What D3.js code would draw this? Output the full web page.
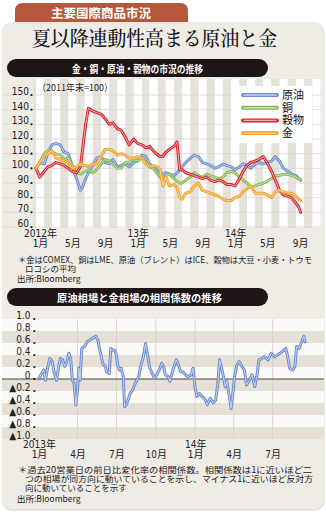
<!DOCTYPE html>
<html><head><meta charset="utf-8">
<script src="https://cdn.jsdelivr.net/npm/d3@7"></script>
<style>
html,body{margin:0;padding:0;background:#fff;}
svg{display:block;}
</style></head><body>
<svg id="c" width="326" height="514"></svg>
<script>
// ---------- DATA ----------
const seriesNames = ["原油", "銅", "穀物", "金"];
const seriesColors = ["#6c8ccf", "#84ba58", "#d62530", "#f2a126"];
const seriesInner = ["#c3d2f0", "#c8e4b0", "#f7b3b6", "#fbd9a0"];

const dates1 = [
 "2012-01-01","2012-01-15","2012-02-01","2012-02-15","2012-03-01","2012-03-15","2012-04-01","2012-04-15","2012-05-01","2012-05-15","2012-06-01","2012-06-15","2012-06-25","2012-07-05","2012-07-15","2012-08-01","2012-08-15","2012-09-01","2012-09-15","2012-10-01","2012-10-15","2012-11-01","2012-11-15","2012-12-01","2012-12-15",
 "2013-01-01","2013-01-15","2013-02-01","2013-02-15","2013-03-01","2013-03-15","2013-04-01","2013-04-10","2013-04-20","2013-05-01","2013-05-15","2013-06-01","2013-06-12","2013-06-22","2013-07-01","2013-07-15","2013-08-01","2013-08-15","2013-09-01","2013-09-15","2013-10-01","2013-10-15","2013-11-01","2013-11-15","2013-12-01","2013-12-15",
 "2014-01-01","2014-01-15","2014-02-01","2014-02-15","2014-03-01","2014-03-15","2014-04-01","2014-04-15","2014-05-01","2014-05-15","2014-06-01","2014-06-15","2014-07-01","2014-07-15","2014-08-01","2014-08-15","2014-09-01","2014-09-10","2014-09-18"
];
const oil = [
 100,104,103,111,116,117,116,111,110,102,93,85,88,93,97,102,107,108,104,103,106,101,102,103,101,
 104,105,109,108,103,101,98,97,96,97,96,95,97,99,101,104,107,109,108,104,103,102,100,101,103,102,
 101,99,101,103,102,100,103,104,103,104,105,108,105,100,98,96,95,93,92
];
const copper = [
 100,104,110,112,111,110,109,106,107,102,97,96,97,98,99,97,99,103,106,105,103,100,100,104,104,
 106,105,107,104,101,100,96,94,92,95,96,93,91,90,90,92,94,97,95,94,96,95,94,93,94,97,
 98,97,94,92,90,87,88,89,90,91,93,95,95,96,96,95,94,93,92
];
const grains = [
 100,94,98,101,102,104,103,102,100,98,97,101,115,130,141,139,138,137,134,130,131,127,126,121,116,
 120,117,116,114,115,112,109,108,108,111,113,115,118,99,99,97,96,95,94,93,94,92,91,92,91,89,
 89,88,93,98,102,104,105,106,108,104,98,92,85,82,81,80,76,74,70
];
const gold = [
 100,104,109,110,112,107,106,105,104,100,101,103,102,102,101,103,103,108,113,113,112,109,110,109,107,
 107,108,107,103,101,102,101,99,88,94,88,89,87,80,79,83,84,88,90,85,84,83,82,81,79,78,
 78,80,81,84,86,88,83,83,83,82,80,84,85,84,83,83,81,79,78
];
const yTicks1 = [150,140,130,120,110,100,90,80,70,60];
const xTickDates1 = ["2012-01","2012-05","2012-09","2013-01","2013-05","2013-09","2014-01","2014-05","2014-09"];
const xTickLabels1 = ["1月","5月","9月","1月","5月","9月","1月","5月","9月"];
const yearTickDates1 = ["2012-01","2013-01","2014-01"];
const yearLabels1 = ["2012年","13年","14年"];

const dates2 = [
 "2013-01-01","2013-01-07","2013-01-12","2013-01-16","2013-01-21","2013-01-26","2013-02-01","2013-02-05","2013-02-11","2013-02-16","2013-02-20","2013-02-25",
 "2013-03-02","2013-03-07","2013-03-12","2013-03-16","2013-03-20","2013-03-24","2013-03-28","2013-04-01","2013-04-04","2013-04-07","2013-04-11","2013-04-17","2013-04-24",
 "2013-05-06","2013-05-14","2013-05-19","2013-05-22","2013-05-26","2013-05-30","2013-06-05","2013-06-08","2013-06-14","2013-06-18","2013-06-22","2013-06-26","2013-06-30",
 "2013-07-04","2013-07-08","2013-07-12","2013-07-17","2013-07-20","2013-07-24","2013-07-28","2013-08-02","2013-08-08","2013-08-16","2013-08-22","2013-08-28",
 "2013-09-01","2013-09-07","2013-09-11","2013-09-17","2013-09-23","2013-09-28","2013-10-03","2013-10-10","2013-10-15","2013-10-19","2013-10-23","2013-10-30",
 "2013-11-03","2013-11-10","2013-11-18","2013-11-24","2013-11-28","2013-12-03","2013-12-10","2013-12-15","2013-12-23","2013-12-27",
 "2014-01-01","2014-01-05","2014-01-11","2014-01-17","2014-01-25","2014-01-29","2014-02-05","2014-02-12","2014-02-18","2014-02-23","2014-02-27",
 "2014-03-02","2014-03-08","2014-03-12","2014-03-16","2014-03-20","2014-03-26","2014-03-30","2014-04-03","2014-04-08","2014-04-14","2014-04-20","2014-04-26",
 "2014-05-01","2014-05-08","2014-05-14","2014-05-20","2014-05-25","2014-05-30","2014-06-05","2014-06-12","2014-06-20","2014-06-28",
 "2014-07-05","2014-07-13","2014-07-24","2014-08-01","2014-08-06","2014-08-10","2014-08-17","2014-08-22","2014-08-26","2014-09-01","2014-09-07","2014-09-12","2014-09-15"
];
const corr = [
 0.01,0.09,0.15,-0.02,0.18,0.34,0.29,0.12,-0.02,0.21,0.34,0.32,
 0.21,0.29,0.43,0.34,-0.02,-0.07,-0.43,-0.18,0.18,-0.02,0.51,0.54,0.62,
 0.68,0.71,0.64,0.51,0.40,0.26,0.21,0.12,0.09,0.51,0.48,0.48,0.43,
 0.23,0.15,0.18,0.04,-0.46,-0.43,-0.35,-0.24,-0.18,-0.04,0.04,0.26,
 0.34,0.59,0.43,0.18,0.09,0.01,0.07,0.17,0.26,0.21,0.07,0.04,
 -0.04,0.15,0.32,0.21,0.12,0.12,0.07,0.04,0.07,0.18,
 -0.15,-0.29,-0.24,-0.29,-0.35,-0.43,-0.32,-0.40,-0.35,-0.07,0.32,
 0.23,0.04,-0.13,-0.04,-0.21,-0.49,-0.24,0.04,0.23,0.29,0.21,0.15,
 -0.10,-0.02,0.07,-0.13,0.04,0.32,0.34,0.37,0.32,0.43,
 0.37,0.40,0.46,0.51,0.34,0.18,0.15,0.21,0.54,0.51,0.62,0.71,0.62
];
const yTicks2 = [1.0,0.8,0.6,0.4,0.2,0,-0.2,-0.4,-0.6,-0.8,-1.0];
const xTickDates2 = ["2013-01","2013-04","2013-07","2013-10","2014-01","2014-04","2014-07"];
const xTickLabels2 = ["1月","4月","7月","10月","1月","4月","7月"];
const yearTickDates2 = ["2013-01","2014-01"];
const yearLabels2 = ["2013年","14年"];

// ---------- DRAW ----------
const JP = "'Noto Sans CJK JP','Noto Sans',sans-serif";
const NUM = "'Liberation Sans Narrow','DejaVu Sans Condensed','Noto Sans CJK JP',sans-serif";
const svg = d3.select("#c");
const pd = d3.timeParse("%Y-%m-%d");
const pm = d3.timeParse("%Y-%m");

// tab
svg.append("path").attr("d","M15,26 L15,11 Q15,3 23,3 L180,3 Q188,3 188,11 L188,26 Z").attr("fill","#b5583b");
svg.append("text").attr("x",101).attr("y",18).attr("text-anchor","middle").attr("font-family",JP)
 .attr("font-weight","bold").attr("font-size",12.5).attr("fill","#fff").text("主要国際商品市況");
// panel
svg.append("rect").attr("x",2.5).attr("y",23.5).attr("width",322).attr("height",487).attr("rx",9).attr("fill","#dcd8d2");
svg.append("rect").attr("x",2).attr("y",22).attr("width",322).attr("height",487).attr("rx",9).attr("fill","#efebe5");
// title
svg.append("text").attr("x",32).attr("y",46).attr("font-family","'Noto Serif CJK JP','Noto Sans CJK JP',serif")
 .attr("font-size",20).attr("font-weight",500).attr("fill","#111").attr("textLength",245).attr("lengthAdjust","spacingAndGlyphs")
 .text("夏以降連動性高まる原油と金");

function pill(y, txt, tl, cx){
  svg.append("rect").attr("x",7).attr("y",y).attr("width",261).attr("height",18).attr("rx",9).attr("fill","#1d1416");
  svg.append("text").attr("x",cx).attr("y",y+13.5).attr("text-anchor","middle").attr("font-family",JP)
   .attr("font-weight","bold").attr("font-size",10.5).attr("fill","#fff")
   .attr("textLength",tl).attr("lengthAdjust","spacingAndGlyphs").text(txt);
}
pill(59, "金・銅・原油・穀物の市況の推移", 131, 137.5);
pill(288, "原油相場と金相場の相関係数の推移", 165, 139.5);

// ===== Chart 1 =====
const x1 = d3.scaleTime().domain([pd("2012-01-01"), pd("2014-12-01")]).range([36, 320.4]);
const y1 = d3.scaleLinear().domain([60,150]).range([227,95]);
const g1 = svg.append("g");
const months1 = d3.timeMonth.range(pd("2012-01-01"), pd("2014-12-01"));
g1.selectAll("rect.st").data(months1).join("rect")
  .attr("x", d=>x1(d)).attr("width", d=>x1(d3.timeMonth.offset(d,1))-x1(d))
  .attr("y",79).attr("height",149)
  .attr("fill",(d,i)=> i%2 ? "#e5e1db" : "#ffffff");
g1.append("rect").attr("x",33).attr("y",79).attr("width",3).attr("height",149).attr("fill","#e5e1db");
g1.selectAll("line.gl").data(yTicks1).join("line")
  .attr("x1",2).attr("x2",322).attr("y1",d=>y1(d)).attr("y2",d=>y1(d))
  .attr("stroke","#d9d4cc").attr("stroke-width",0.7);
const ax1 = g1.append("g").attr("transform","translate(29,0)")
  .call(d3.axisLeft(y1).tickValues(yTicks1).tickSize(0).tickPadding(0));
ax1.select(".domain").remove();
ax1.selectAll("text").attr("dy","-0.05em").attr("font-family",NUM).attr("font-size",10).attr("fill","#222");
g1.selectAll("circle.dt").data(yTicks1).join("circle").attr("cx",31.5).attr("cy",d=>y1(d)).attr("r",1.1).attr("fill","#111");
g1.append("text").attr("x",37).attr("y",91).attr("font-family",JP).attr("font-size",9).attr("fill","#222").text("（2011年末=100）");
const xa1 = g1.append("g").attr("transform","translate(0,239)")
  .call(d3.axisBottom(x1).tickValues(xTickDates1.map(s=>d3.timeDay.offset(pm(s),15))).tickSize(0).tickPadding(0)
        .tickFormat((d,i)=>xTickLabels1[i]));
xa1.select(".domain").remove();
xa1.selectAll("text").attr("y",8).attr("dy","0").attr("font-family",NUM).attr("font-size",10).attr("fill","#222");
const ya1 = g1.append("g").attr("transform","translate(0,229)")
  .call(d3.axisBottom(x1).tickValues(yearTickDates1.map(s=>d3.timeDay.offset(pm(s),15))).tickSize(0).tickPadding(0)
        .tickFormat((d,i)=>yearLabels1[i]));
ya1.select(".domain").remove();
ya1.selectAll("text").attr("y",8).attr("dy","0").attr("font-family",NUM).attr("font-size",10).attr("fill","#222");

const seriesVals = [oil, copper, grains, gold];
const line1 = d3.line().x(d=>x1(d.d)).y(d=>y1(d.v));
seriesVals.forEach((vals,k)=>{
  const data = vals.map((v,i)=>({d:pd(dates1[i]), v}));
  g1.append("path").attr("d",line1(data)).attr("fill","none").attr("stroke",seriesColors[k])
    .attr("stroke-width",3).attr("stroke-linejoin","round").attr("stroke-linecap","round");
  g1.append("path").attr("d",line1(data)).attr("fill","none").attr("stroke",seriesInner[k])
    .attr("stroke-width",0.9).attr("stroke-linejoin","round");
});
const lg = g1.append("g");
lg.append("rect").attr("x",232).attr("y",86).attr("width",80).attr("height",57).attr("fill","#fff");
seriesNames.forEach((n,k)=>{
  const yy = 95 + k*12.7;
  lg.append("line").attr("x1",243).attr("x2",277).attr("y1",yy).attr("y2",yy).attr("stroke",seriesColors[k]).attr("stroke-width",4).attr("stroke-linecap","round");
  lg.append("line").attr("x1",244).attr("x2",276).attr("y1",yy).attr("y2",yy).attr("stroke",seriesInner[k]).attr("stroke-width",1.4).attr("stroke-linecap","round");
  lg.append("text").attr("x",282).attr("y",yy+4).attr("font-family",JP).attr("font-size",11).attr("fill","#111").text(n);
});
// multi-line notes as one text element each
function noteBlock(lines){
  const t = svg.append("text").attr("font-family",JP).attr("font-size",8.5).attr("fill","#222");
  lines.forEach(l=>{
    const s = t.append("tspan").attr("x",l.x).attr("y",l.y).text(l.t);
    if (l.tl) s.attr("textLength",l.tl).attr("lengthAdjust","spacingAndGlyphs");
  });
}
noteBlock([
  {x:18, y:263, t:"＊金はCOMEX、銅はLME、原油（ブレント）はICE、穀物は大豆・小麦・トウモ", tl:294},
  {x:25, y:272, t:"ロコシの平均"},
  {x:17, y:281.5, t:"出所:Bloomberg"}
]);

// ===== Chart 2 =====
const x2 = d3.scaleTime().domain([pd("2013-01-01"), pd("2014-10-01")]).range([39, 312]);
const y2 = d3.scaleLinear().domain([-1,1]).range([439,319]);
const g2 = svg.append("g");
const bands = d3.range(0, 10);
g2.selectAll("rect.bd").data(bands).join("rect")
  .attr("x",2).attr("width",322).attr("y",i=>y2(1 - i*0.2)).attr("height",y2(0)-y2(0.2))
  .attr("fill",i=> i%2 ? "#e6e0d7" : "#fbfaf7");
const vlines = xTickDates2.slice(1).map(s=>pm(s));
g2.selectAll("line.vl").data(vlines).join("line")
  .attr("x1",d=>x2(d)).attr("x2",d=>x2(d)).attr("y1",319).attr("y2",439)
  .attr("stroke","#d6d0c8").attr("stroke-width",0.8);
g2.append("line").attr("x1",2).attr("x2",324).attr("y1",y2(0)).attr("y2",y2(0)).attr("stroke","#3a3030").attr("stroke-width",0.9);
const ax2 = g2.append("g").attr("transform","translate(30.5,0)")
  .call(d3.axisLeft(y2).tickValues(yTicks2).tickSize(0).tickPadding(0)
        .tickFormat(v => v < 0 ? "▲" + Math.abs(v).toFixed(1) : (v === 0 ? "0" : v.toFixed(1))));
ax2.select(".domain").remove();
ax2.selectAll("text").attr("dy","-0.05em").attr("font-family",NUM).attr("font-size",10).attr("fill","#222");
g2.selectAll("circle.dt").data(yTicks2).join("circle").attr("cx",34.3).attr("cy",d=>y2(d)).attr("r",1.1).attr("fill","#111");
const xa2 = g2.append("g").attr("transform","translate(0,450)")
  .call(d3.axisBottom(x2).tickValues(xTickDates2.map(s=>pm(s))).tickSize(0).tickPadding(0)
        .tickFormat((d,i)=>xTickLabels2[i]));
xa2.select(".domain").remove();
xa2.selectAll("text").attr("y",8).attr("dy","0").attr("font-family",NUM).attr("font-size",10).attr("fill","#222");
const ya2 = g2.append("g").attr("transform","translate(0,440)")
  .call(d3.axisBottom(x2).tickValues(yearTickDates2.map(s=>pm(s))).tickSize(0).tickPadding(0)
        .tickFormat((d,i)=>yearLabels2[i]));
ya2.select(".domain").remove();
ya2.selectAll("text").attr("y",8).attr("dy","0").attr("font-family",NUM).attr("font-size",10).attr("fill","#222");
const line2 = d3.line().x(d=>x2(d.d)).y(d=>y2(d.v));
const cdata = corr.map((v,i)=>({d:pd(dates2[i]), v}));
g2.append("path").attr("d",line2(cdata)).attr("fill","none").attr("stroke","#6c8ccf").attr("stroke-width",3).attr("stroke-linejoin","round").attr("stroke-linecap","round");
g2.append("path").attr("d",line2(cdata)).attr("fill","none").attr("stroke","#cfdbf2").attr("stroke-width",0.9).attr("stroke-linejoin","round");

noteBlock([
  {x:18, y:473, t:"＊過去20営業日の前日比変化率の相関係数。相関係数は1に近いほど二", tl:294},
  {x:25, y:482, t:"つの相場が同方向に動いていることを示し、マイナス1に近いほど反対方", tl:288},
  {x:25, y:491, t:"向に動いていることを示す"},
  {x:17, y:502, t:"出所:Bloomberg"}
]);
</script>
</body></html>
